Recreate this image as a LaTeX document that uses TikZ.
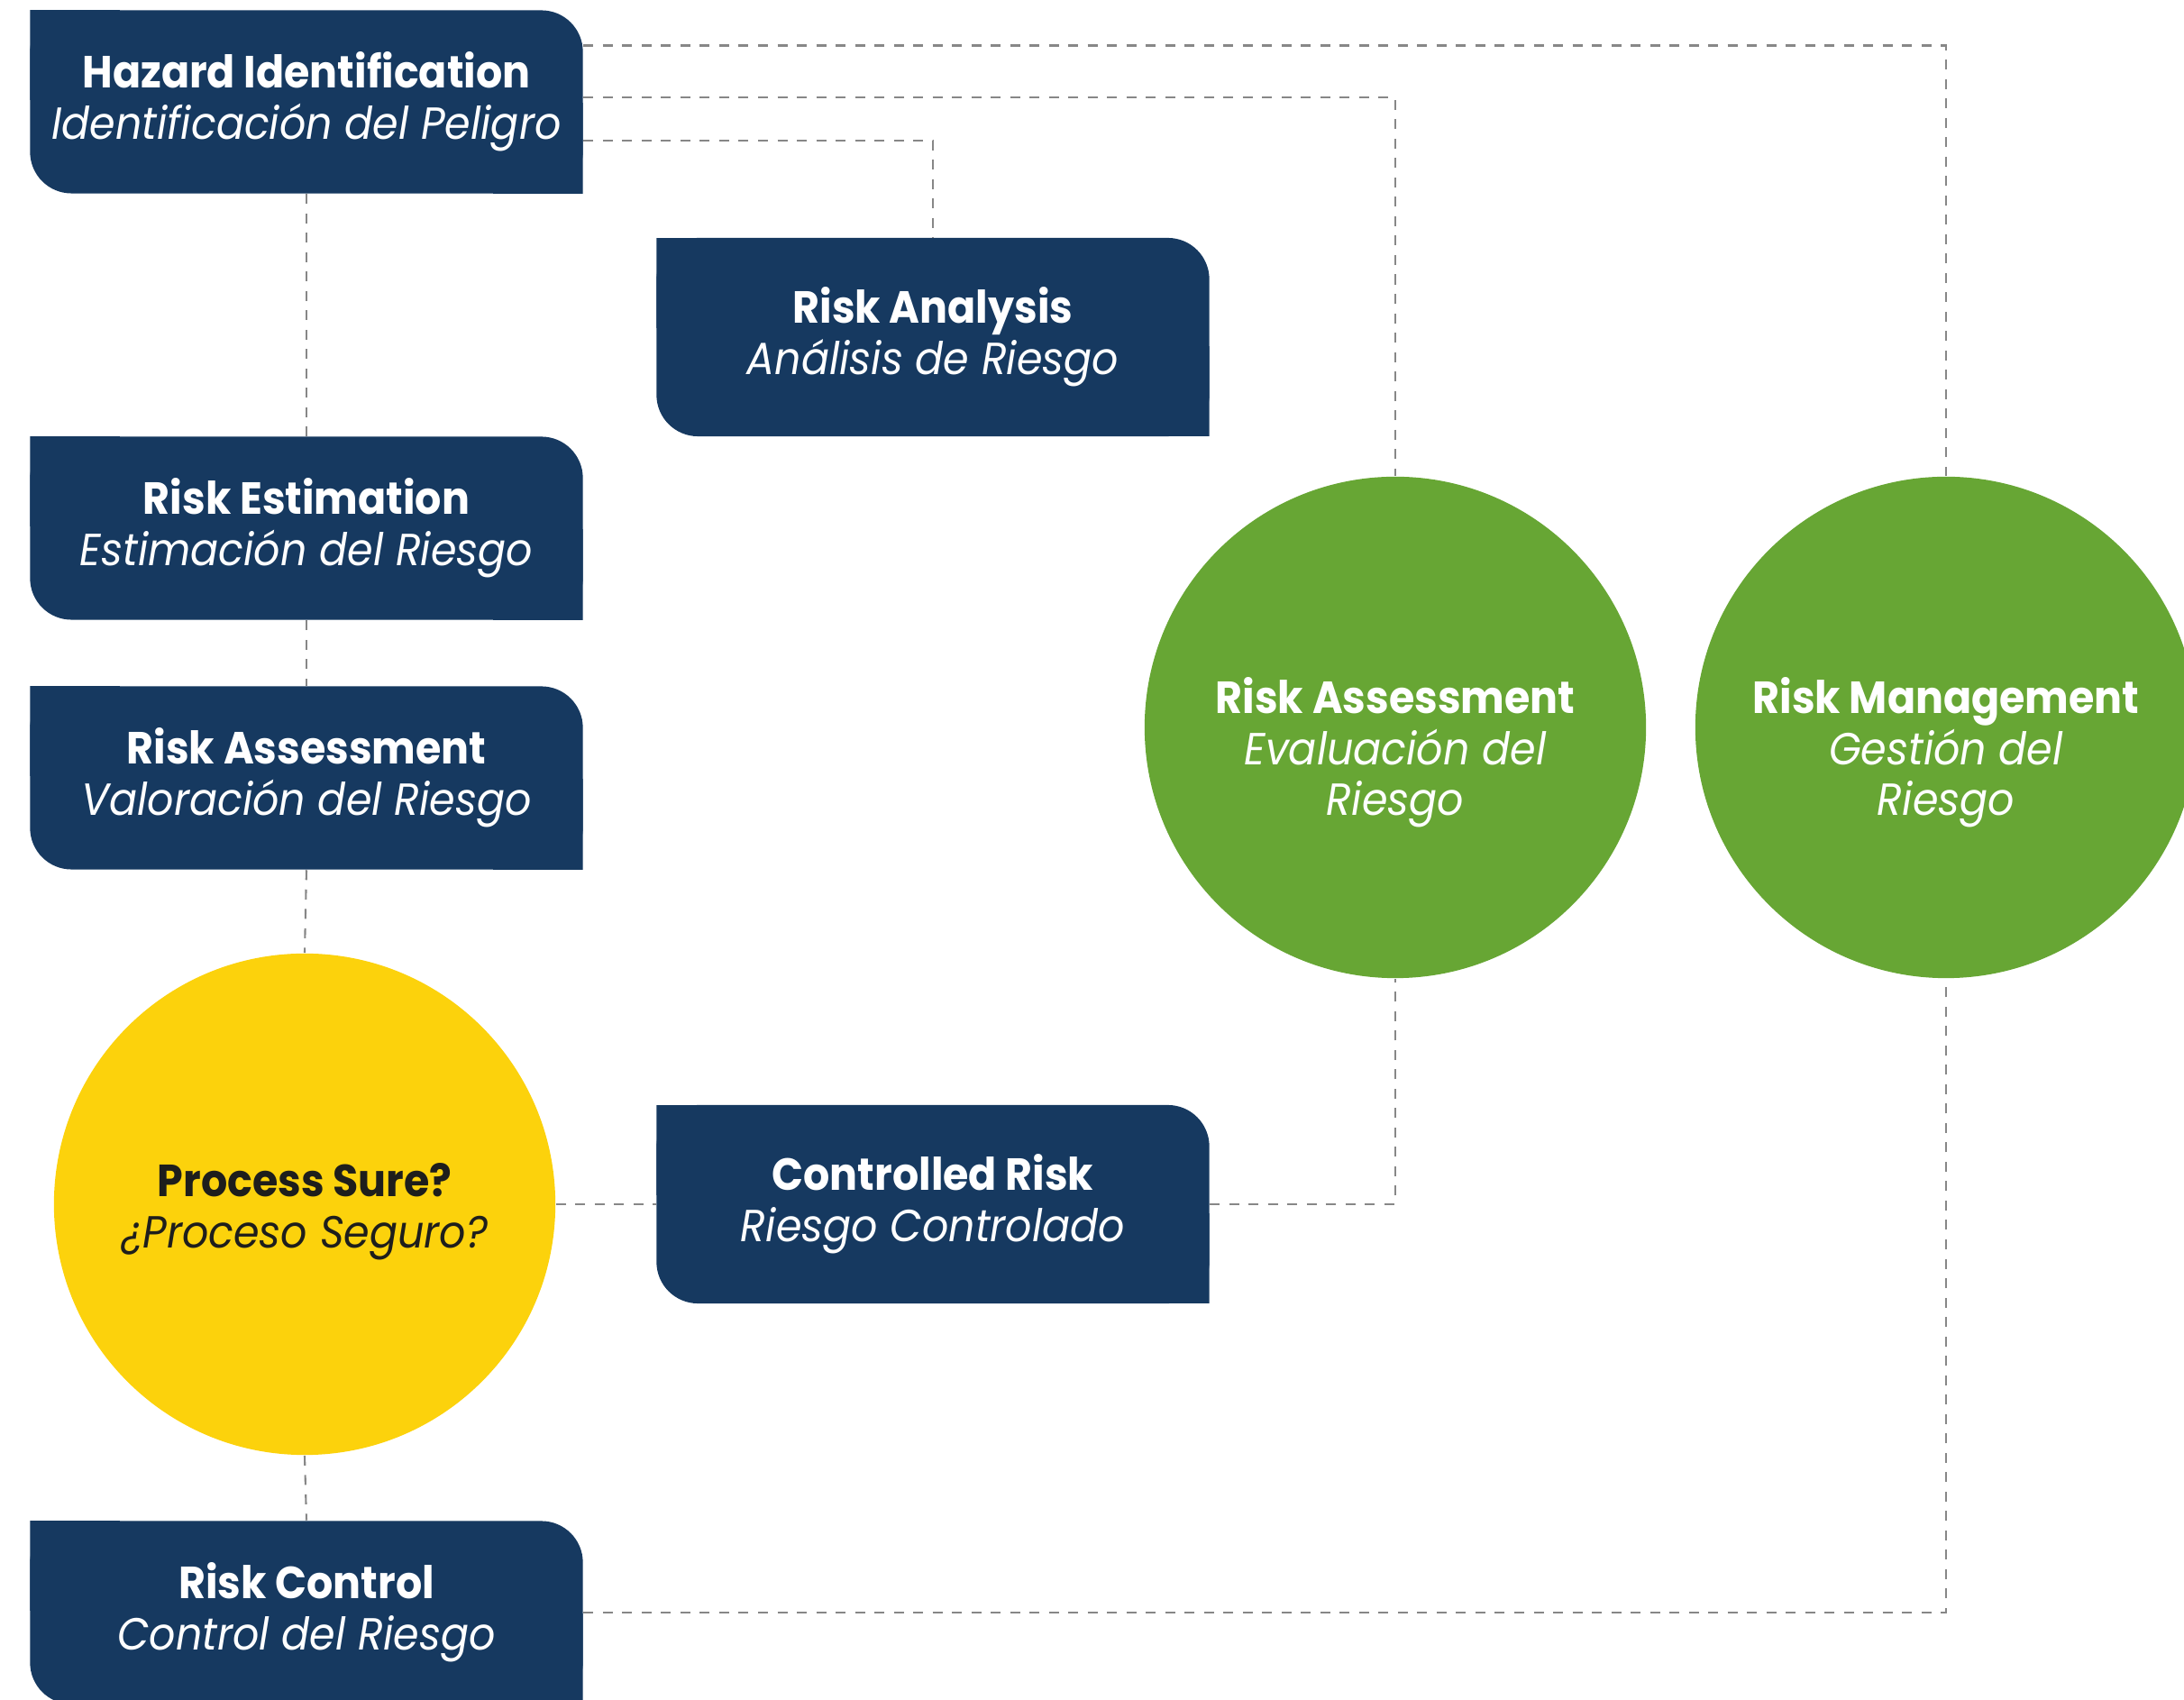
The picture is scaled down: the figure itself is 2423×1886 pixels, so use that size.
\documentclass[tikz,border=0pt]{standalone}
\usepackage{fontspec}
\setmainfont{Poppins}[FakeStretch=0.92]
\usetikzlibrary{positioning,calc}
\definecolor{navy}{RGB}{22,57,96}
\definecolor{leaf}{RGB}{103,166,52}
\definecolor{sun}{RGB}{252,210,12}
\definecolor{ink}{RGB}{30,30,28}
\definecolor{dashgray}{RGB}{135,135,135}
\newcommand{\twoline}[2]{\textbf{#1}\\\textit{#2}}
\tikzset{
  stepbox/.style={rectangle,inner sep=0pt,minimum width=6.13cm,minimum height=2.03cm,
    align=center,text=white,font=\fontsize{14.2}{16.1}\selectfont,
    path picture={
      \fill[navy,rounded corners=0.46cm] (path picture bounding box.south west) rectangle (path picture bounding box.north east);
      \fill[navy] (path picture bounding box.north west) rectangle ++(1cm,-1cm);
      \fill[navy] (path picture bounding box.south east) rectangle ++(-1cm,1cm);}},
  tallbox/.style={stepbox,minimum height=2.2cm},
  disc/.style={circle,inner sep=0pt,minimum size=5.56cm},
  leafdisc/.style={disc,fill=leaf},
  sundisc/.style={disc,fill=sun},
  disctext/.style={align=center,text=white,font=\fontsize{14.2}{16.1}\selectfont},
  link/.style={draw=dashgray,line width=0.6pt,dash pattern=on 1.1mm off 1.05mm},
}
\begin{document}
\begin{tikzpicture}[x=0.01cm,y=-0.01cm]
  \useasboundingbox (0,0) rectangle (2423,1886);
  % left column
  \node[stepbox] (hazard) at (340,113) {\twoline{Hazard Identification}{Identificación del Peligro}};
  \node[stepbox] (estimation) at (340,586) {\twoline{Risk Estimation}{Estimación del Riesgo}};
  \node[stepbox] (valuation) at (340,863) {\twoline{Risk Assessment}{Valoración del Riesgo}};
  \node[sundisc] (process) at (338,1336) {};
  \node[disctext,text=ink] (processtxt) at (338,1344) {\twoline{Process Sure?}{¿Proceso Seguro?}};
  \node[stepbox] (control) at (340,1789) {\twoline{Risk Control}{Control del Riesgo}};
  % middle column
  \node[tallbox] (analysis) at (1035,374) {\twoline{Risk Analysis}{Análisis de Riesgo}};
  \node[tallbox] (controlled) at (1035,1336) {\twoline{Controlled Risk}{Riesgo Controlado}};
  % right circles
  \node[leafdisc] (evaluation) at (1548,807) {};
  \node[disctext] (evaluationtxt) at (1548,835) {\textbf{Risk Assessment}\\\textit{Evaluación del}\\\textit{Riesgo}};
  \node[leafdisc] (management) at (2159,807) {};
  \node[disctext] (managementtxt) at (2159,835) {\textbf{Risk Management}\\\textit{Gestión del}\\\textit{Riesgo}};
  % dashed links
  \draw[link] ([yshift=6.25mm]hazard.east) -| (management.north);
  \draw[link] ([yshift=0.5mm]hazard.east) -| (evaluation.north);
  \draw[link] ([yshift=-4.3mm]hazard.east) -| (analysis.north);
  \draw[link] (hazard.south) -- (estimation.north);
  \draw[link] (estimation.south) -- (valuation.north);
  \draw[link] (valuation.south) -- (process.north);
  \draw[link] (process.south) -- (control.north);
  \draw[link] (process.east) -- (controlled.west);
  \draw[link] (controlled.east) -| (evaluation.south);
  \draw[link] (control.east) -| (management.south);
\end{tikzpicture}
\end{document}
